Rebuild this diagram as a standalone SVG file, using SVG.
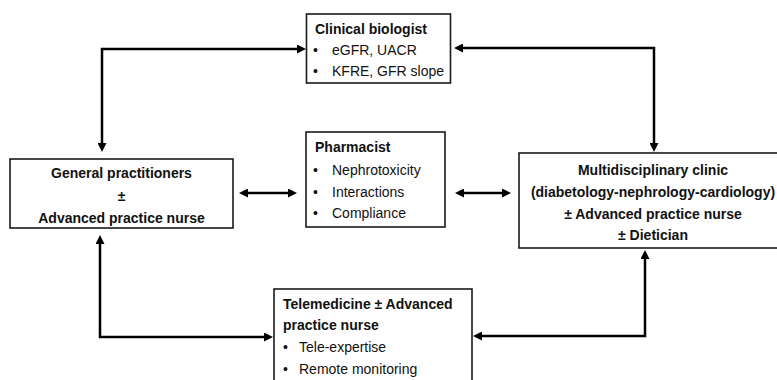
<svg xmlns="http://www.w3.org/2000/svg" width="777" height="380" viewBox="0 0 777 380">
  <style>
    .box { fill: #ffffff; stroke: #1a1a1a; stroke-width: 1.6; }
    .t { font-family: "Liberation Sans", Arial, sans-serif; font-size: 14px; fill: #111111; }
    .b { font-weight: bold; }
    .c { text-anchor: middle; }
    .conn { fill: none; stroke: #000000; stroke-width: 2.5; marker-start: url(#ah); marker-end: url(#ah); }
  </style>
  <defs>
    <marker id="ah" markerUnits="userSpaceOnUse" markerWidth="10" markerHeight="9" refX="2" refY="4.5" orient="auto-start-reverse">
      <path d="M0,0 L9,4.5 L0,9 z" fill="#000000"/>
    </marker>
  </defs>
  <rect width="777" height="380" fill="#ffffff"/>

  <g id="connectors">
    <path class="conn" d="M102 145 L102 49 L299 49"/>
    <path class="conn" d="M461 48 L654 48 L654 145"/>
    <path class="conn" d="M246 193 L290 193"/>
    <path class="conn" d="M462 193 L504 193"/>
    <path class="conn" d="M100 242 L100 337 L266 337"/>
    <path class="conn" d="M645 257 L645 336 L480 336"/>
  </g>

  <g id="clinical-biologist">
    <rect class="box" x="306.5" y="14" width="144" height="69"/>
    <text class="t b" x="315" y="34">Clinical biologist</text>
    <text class="t" x="313" y="55">•</text>
    <text class="t" x="332" y="55">eGFR, UACR</text>
    <text class="t" x="313" y="76">•</text>
    <text class="t" x="332" y="76">KFRE, GFR slope</text>
  </g>

  <g id="general-practitioners">
    <rect class="box" x="10" y="159" width="223" height="69"/>
    <text class="t b c" x="121.5" y="178">General practitioners</text>
    <text class="t b c" x="121.5" y="201">±</text>
    <text class="t b c" x="121.5" y="222.5">Advanced practice nurse</text>
  </g>

  <g id="pharmacist">
    <rect class="box" x="306" y="132" width="139" height="95"/>
    <text class="t b" x="315" y="152">Pharmacist</text>
    <text class="t" x="313" y="175">•</text>
    <text class="t" x="332" y="175">Nephrotoxicity</text>
    <text class="t" x="313" y="196.5">•</text>
    <text class="t" x="332" y="196.5">Interactions</text>
    <text class="t" x="313" y="218">•</text>
    <text class="t" x="332" y="218">Compliance</text>
  </g>

  <g id="multidisciplinary-clinic">
    <rect class="box" x="519" y="153" width="270" height="95"/>
    <text class="t b c" x="653" y="175">Multidisciplinary clinic</text>
    <text class="t b c" x="653" y="197">(diabetology-nephrology-cardiology)</text>
    <text class="t b c" x="653" y="219">± Advanced practice nurse</text>
    <text class="t b c" x="653" y="240">± Dietician</text>
  </g>

  <g id="telemedicine">
    <rect class="box" x="274" y="289" width="198" height="110"/>
    <text class="t b" x="283" y="309">Telemedicine ± Advanced</text>
    <text class="t b" x="283" y="330">practice nurse</text>
    <text class="t" x="283" y="352">•</text>
    <text class="t" x="299" y="352">Tele-expertise</text>
    <text class="t" x="283" y="374">•</text>
    <text class="t" x="299" y="374">Remote monitoring</text>
  </g>
</svg>
